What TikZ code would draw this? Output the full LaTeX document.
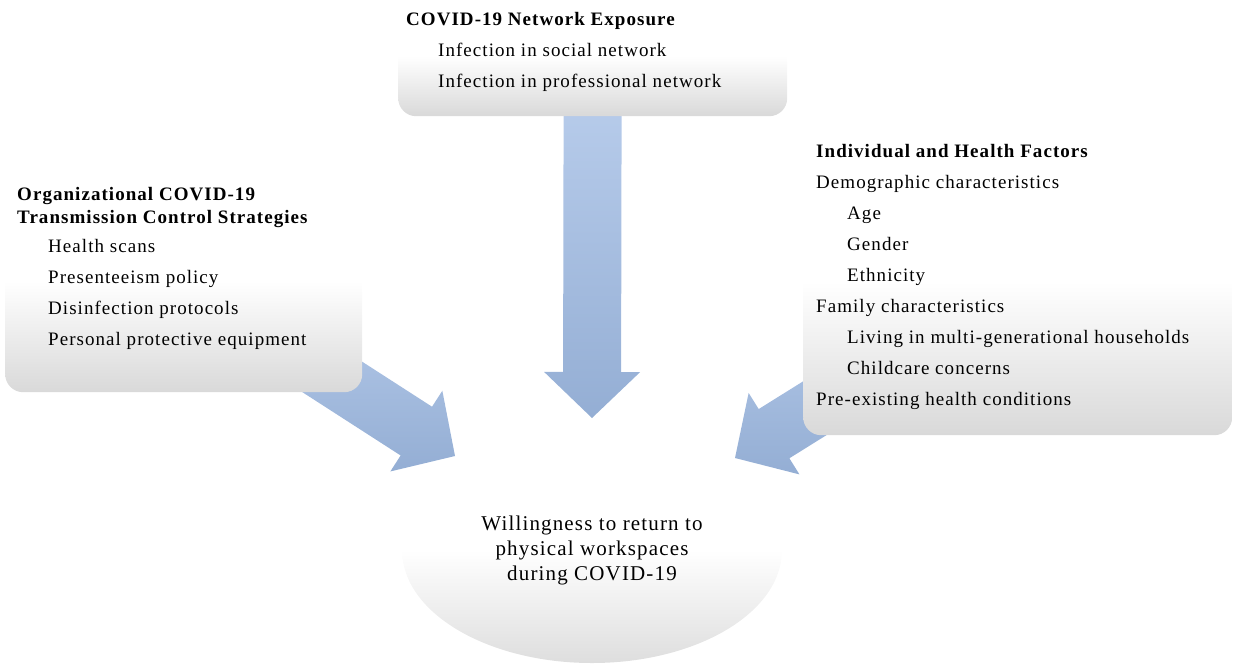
\documentclass[tikz,border=0pt]{standalone}
\usepackage{fontspec}
\setmainfont{Liberation Serif}[LetterSpace=5.5]
\usetikzlibrary{shapes.geometric,calc,backgrounds}

\definecolor{arrowtop}{RGB}{188,208,238}
\definecolor{arrowbottom}{RGB}{148,174,212}

\tikzset{
  panel/.style={rectangle, rounded corners=18pt, top color=white, bottom color=black!15, middle color=white, inner sep=0pt, anchor=north west},
  itemtext/.style={align=left, inner sep=0pt, anchor=north west, font=\fontsize{19}{31}\selectfont},
  goal/.style={ellipse, top color=white, bottom color=black!13, middle color=white, minimum width=380, minimum height=226, align=center, font=\fontsize{21}{25}\selectfont},
  blockarrow/.style={top color=arrowtop, bottom color=arrowbottom}
}

\begin{document}
\begin{tikzpicture}[x=1pt, y=-1pt]
\useasboundingbox (0,0) rectangle (1233,665);

% boxes
\node[panel, minimum width=389, minimum height=120] (net) at (398,-4) {};
\node[panel, minimum width=357, minimum height=222] (org) at (5,170) {};
\node[panel, minimum width=429, minimum height=307] (ind) at (803,128) {};
\node[goal] (will) at (592,550) {Willingness to return to\\physical workspaces\\during COVID-19};

% box texts
\node[itemtext] (nettext) at (406,12) {\textbf{COVID-19 Network Exposure}\\
  \hspace*{32pt}Infection in social network\\
  \hspace*{32pt}Infection in professional network};
\node[itemtext] (orgtext) at (17,187) {\textbf{Organizational COVID-19}\\[-8pt]
  \textbf{Transmission Control Strategies}\\[-2pt]
  \hspace*{31pt}Health scans\\
  \hspace*{31pt}Presenteeism policy\\
  \hspace*{31pt}Disinfection protocols\\
  \hspace*{31pt}Personal protective equipment};
\node[itemtext] (indtext) at (816,144) {\textbf{Individual and Health Factors}\\
  Demographic characteristics\\
  \hspace*{31pt}Age\\
  \hspace*{31pt}Gender\\
  \hspace*{31pt}Ethnicity\\
  Family characteristics\\
  \hspace*{31pt}Living in multi-generational households\\
  \hspace*{31pt}Childcare concerns\\
  Pre-existing health conditions};

% arrow tips
\coordinate (tip-net) at (592,418);
\coordinate (tip-org) at (455,456);
\coordinate (tip-ind) at (735,458);

% block arrows behind the boxes
\begin{scope}[on background layer]
\foreach \src in {net, org, ind} {
  \coordinate (hb) at ($(tip-\src)!46pt!(\src.center)$);
  \path[blockarrow] ($(\src.center)!29pt!90:(tip-\src)$) -- ($(hb)!29pt!90:(tip-\src)$)
    -- ($(hb)!48pt!90:(tip-\src)$) -- (tip-\src) -- ($(hb)!48pt!-90:(tip-\src)$)
    -- ($(hb)!29pt!-90:(tip-\src)$) -- ($(\src.center)!29pt!-90:(tip-\src)$) -- cycle;
}
\end{scope}
\end{tikzpicture}
\end{document}
